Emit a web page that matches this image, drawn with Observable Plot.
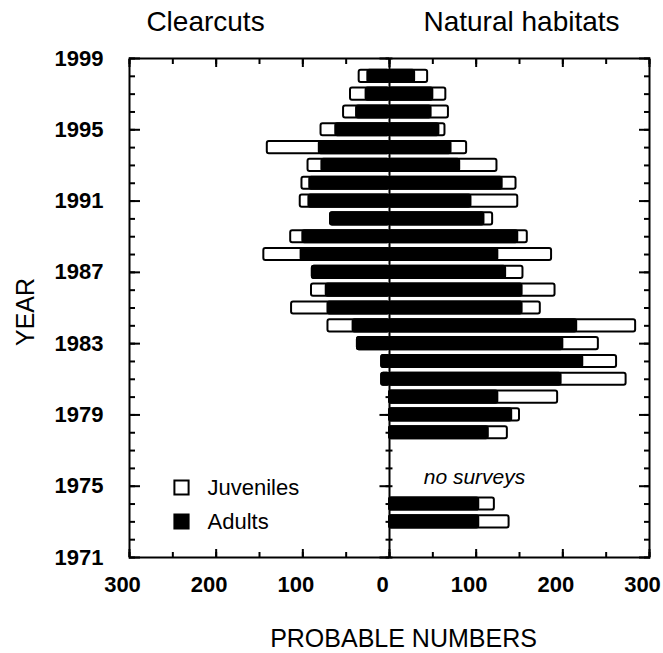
<!DOCTYPE html>
<html><head><meta charset="utf-8">
<script src="https://cdn.jsdelivr.net/npm/d3@7"></script>
<script src="https://cdn.jsdelivr.net/npm/@observablehq/plot@0.6"></script>
<style>body{margin:0;background:#fff} #chart svg{display:block}</style>
</head><body><div id="chart"></div>
<script>
// ---- data ----
const clearYears = [1998,1997,1996,1995,1994,1993,1992,1991,1990,1989,1988,1987,1986,1985,1984,1983,1982,1981];
const clearAdults = [25,27,38,62,81,78,92,93,68,100,102,89,73,71,42,37,9,9];
const clearJuveniles = [10,18,15,17,60,16,9,10,0,14,43,0,17,42,29,0,0,0];

const naturalYears = [1998,1997,1996,1995,1994,1993,1992,1991,1990,1989,1988,1987,1986,1985,1984,1983,1982,1981,1980,1979,1978,1974,1973];
const naturalAdults = [29,50,48,57,71,81,130,94,109,148,125,134,153,153,216,200,223,198,125,141,114,103,103];
const naturalJuveniles = [15,15,20,7,18,43,16,54,10,11,62,20,38,21,68,41,39,75,69,9,22,18,35];

const yearTicks = [1971,1975,1979,1983,1987,1991,1995,1999];
const yearMinorTicks = d3.range(1971, 2000);
const xTicks = [-300,-200,-100,0,100,200,300];
const xMinorTicks = d3.range(-300, 301, 50);
const panelTitles = ["Clearcuts", "Natural habitats"];
const legendLabels = ["Juveniles", "Adults"];
const noteText = ["no surveys"];
const xTitle = ["PROBABLE NUMBERS"];
const yTitle = ["YEAR"];

// ---- build ----
const clear = clearYears.map((y, i) => ({year: y, adults: clearAdults[i], total: clearAdults[i] + clearJuveniles[i]}));
const natural = naturalYears.map((y, i) => ({year: y, adults: naturalAdults[i], total: naturalAdults[i] + naturalJuveniles[i]}));
const H = 0.34;
const font = "'Liberation Sans', Arial, Helvetica, sans-serif";
const barStyle = {y1: d => d.year - H, y2: d => d.year + H, stroke: "black", strokeWidth: 2, rx: 2};
const txt = {text: d => d, lineAnchor: "middle"};

const chart = Plot.plot({
  width: 663, height: 653,
  marginLeft: 129, marginRight: 14, marginTop: 58, marginBottom: 96,
  style: {fontFamily: font, background: "white", color: "black", overflow: "visible"},
  x: {domain: [-300, 300]},
  y: {domain: [1971, 1999]},
  marks: [
    Plot.ruleX([0], {strokeWidth: 2}),
    Plot.ruleY(yearMinorTicks, {y: d => d, x1: () => -4, x2: () => 4, strokeWidth: 2}),
    Plot.ruleY(yearTicks, {y: d => d, x1: () => -11, x2: () => 0, strokeWidth: 2}),
    Plot.rect(clear, {...barStyle, x1: d => -d.total, x2: () => 0, fill: "white"}),
    Plot.rect(clear, {...barStyle, x1: d => -d.adults, x2: () => 0, fill: "black"}),
    Plot.rect(natural, {...barStyle, x1: () => 0, x2: d => d.total, fill: "white"}),
    Plot.rect(natural, {...barStyle, x1: () => 0, x2: d => d.adults, fill: "black"}),
    Plot.frame({strokeWidth: 2}),
    // y axes (ticks pointing inward)
    Plot.axisY({anchor: "left", ticks: yearTicks, tickSize: 0, tickPadding: 26, tickFormat: d => String(d), fontSize: 22, fontWeight: "bold", label: null}),
    Plot.axisY({anchor: "left", ticks: yearMinorTicks, tickSize: 6, dx: 6, text: null, label: null, strokeWidth: 2}),
    Plot.axisY({anchor: "left", ticks: yearTicks, tickSize: 11, dx: 11, text: null, label: null, strokeWidth: 2}),
    Plot.axisY({anchor: "right", ticks: yearMinorTicks, tickSize: 6, dx: -6, text: null, label: null, strokeWidth: 2}),
    Plot.axisY({anchor: "right", ticks: yearTicks, tickSize: 11, dx: -11, text: null, label: null, strokeWidth: 2}),
    // x axes
    Plot.axisX({anchor: "bottom", ticks: xTicks, tickSize: 0, tickPadding: 19, tickFormat: d => String(Math.abs(d)), fontSize: 22, fontWeight: "bold", label: null, dx: -7}),
    Plot.axisX({anchor: "bottom", ticks: xMinorTicks, tickSize: 5, dy: -5, text: null, label: null, strokeWidth: 2}),
    Plot.axisX({anchor: "bottom", ticks: xTicks, tickSize: 8, dy: -8, text: null, label: null, strokeWidth: 2}),
    Plot.axisX({anchor: "top", ticks: xMinorTicks, tickSize: 5, dy: 5, text: null, label: null, strokeWidth: 2}),
    Plot.axisX({anchor: "top", ticks: xTicks, tickSize: 8, dy: 8, text: null, label: null, strokeWidth: 2}),
    // titles
    Plot.text([panelTitles[0]], {...txt, frameAnchor: "top", dx: -184, dy: -36, fontSize: 28}),
    Plot.text([panelTitles[1]], {...txt, frameAnchor: "top", dx: 132, dy: -36, fontSize: 28}),
    Plot.text(xTitle, {...txt, frameAnchor: "bottom", dx: 14, dy: 81, fontSize: 25}),
    Plot.text(yTitle, {...txt, textAnchor: "middle", frameAnchor: "left", dx: -104, dy: 4, rotate: -90, fontSize: 25}),
    // legend
    Plot.dot([legendLabels[0]], {frameAnchor: "bottom-left", dx: 52, dy: -70, symbol: "square", r: 8, fill: "white", stroke: "black", strokeWidth: 2}),
    Plot.dot([legendLabels[1]], {frameAnchor: "bottom-left", dx: 52, dy: -36, symbol: "square", r: 8, fill: "black", stroke: "black", strokeWidth: 2}),
    Plot.text([legendLabels[0]], {...txt, frameAnchor: "bottom-left", dx: 78, dy: -70, textAnchor: "start", fontSize: 22}),
    Plot.text([legendLabels[1]], {...txt, frameAnchor: "bottom-left", dx: 78, dy: -36, textAnchor: "start", fontSize: 22}),
    // annotation
    Plot.text(noteText, {...txt, frameAnchor: "bottom", dx: 85, dy: -80, fontSize: 21, fontStyle: "italic"})
  ]
});
document.getElementById("chart").append(chart);
</script>
</body></html>
